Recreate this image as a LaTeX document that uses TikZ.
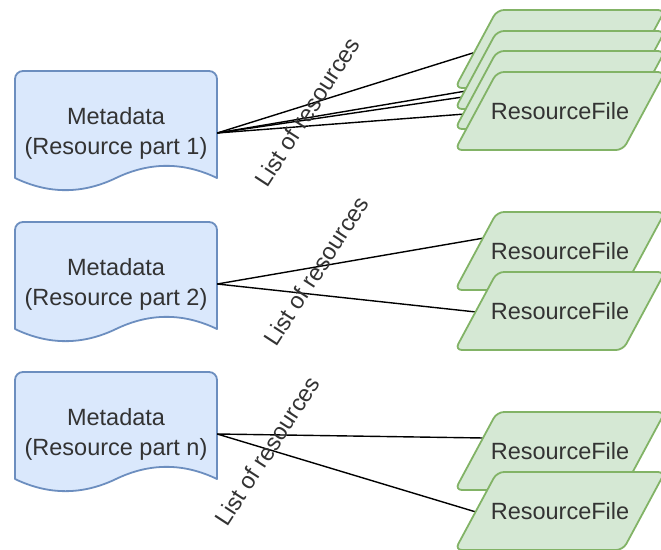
\documentclass[tikz,border=0pt]{standalone}
\usepackage{fontspec}
\setmainfont{Liberation Sans}
\definecolor{docfill}{HTML}{DAE8FC}
\definecolor{docline}{HTML}{6C8EBF}
\definecolor{filefill}{HTML}{D5E8D4}
\definecolor{fileline}{HTML}{82B366}
\definecolor{ink}{HTML}{333333}
\tikzset{
  docbox/.style={draw=docline, fill=docfill, line width=1.8pt, line join=round},
  filebox/.style={draw=fileline, fill=filefill, line width=1.8pt, rounded corners=7pt},
  boxtext/.style={text=ink, font=\fontsize{23.5}{30}\selectfont, align=center, inner sep=0pt},
  linklabel/.style={text=ink, font=\fontsize{23.5}{28}\selectfont, inner sep=0pt, rotate=57},
  link/.style={draw=black, line width=1.4pt},
}
% document shape with a wavy bottom: name, left, top, part
\newcommand\metadoc[4]{%
  \draw[docbox] (#2,#3+107) -- (#2,#3+8) arc[start angle=180,end angle=270,radius=8]
    -- (#2+194,#3) arc[start angle=270,end angle=360,radius=8]
    -- (#2+202,#3+107)
    .. controls (#2+168.3,#3+90.8) and (#2+134.7,#3+90.8) .. (#2+101,#3+107)
    .. controls (#2+67.3,#3+123.2) and (#2+33.7,#3+123.2) .. (#2,#3+107) -- cycle;
  \node[boxtext, minimum width=202pt] (#1) at (#2+101,#3+62) {Metadata\\(Resource part #4)};
}
% slanted file box: left, top
\newcommand\fileshape[2]{%
  \draw[filebox] (#1,#2+78) -- (#1+42,#2) -- (#1+210,#2) -- (#1+168,#2+78) -- cycle;
}
% slanted file box with its label: name, left, top
\newcommand\resfile[3]{%
  \fileshape{#2}{#3}
  \node[boxtext] (#1) at (#2+105,#3+39) {ResourceFile};
}
\begin{document}
\begin{tikzpicture}[x=1pt,y=-1pt]
  \path[use as bounding box] (0,0) rectangle (661,549);
  \clip (0,0) rectangle (661,549);

  % metadata documents
  \metadoc{docA}{15}{71}{1}
  \metadoc{docB}{15}{222}{2}
  \metadoc{docC}{15}{372}{n}

  % connector ends on the file boxes
  \coordinate (a1) at (476,52);
  \coordinate (a2) at (466,91);
  \coordinate (a3) at (463,97);
  \coordinate (a4) at (465,114);
  \coordinate (b1) at (484,238);
  \coordinate (b2) at (476,312);
  \coordinate (c1) at (484,438);
  \coordinate (c2) at (476,512);

  \draw[link] (docA.east) -- (a1);
  \draw[link] (docA.east) -- (a2);
  \draw[link] (docA.east) -- (a3);
  \draw[link] (docA.east) -- (a4);
  \draw[link] (docB.east) -- (b1);
  \draw[link] (docB.east) -- (b2);
  \draw[link] (docC.east) -- (c1);
  \draw[link] (docC.east) -- (c2);

  % stacked files of part 1
  \fileshape{455}{10}
  \fileshape{455}{31}
  \fileshape{455}{51}
  \resfile{fileA}{455}{72}

  % files of part 2
  \resfile{fileB1}{455}{212}
  \resfile{fileB2}{455}{272}

  % files of part n
  \resfile{fileC1}{455}{412}
  \resfile{fileC2}{455}{472}

  % edge labels
  \node[linklabel] (labA) at (307,112) {List of resources};
  \node[linklabel] (labB) at (316,271) {List of resources};
  \node[linklabel] (labC) at (267,451) {List of resources};
\end{tikzpicture}
\end{document}
